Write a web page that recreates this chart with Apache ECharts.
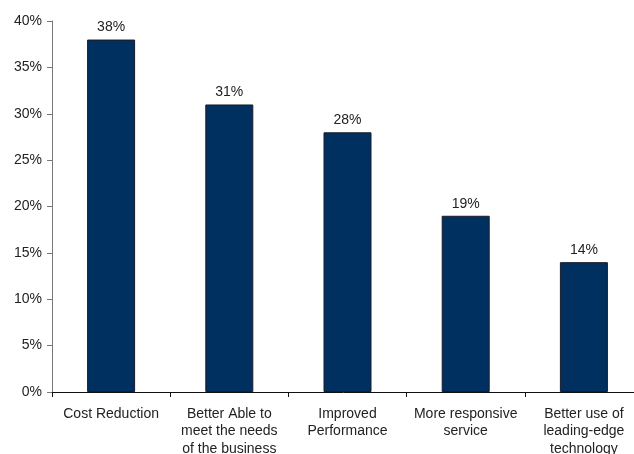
<!DOCTYPE html>
<html>
<head>
<meta charset="utf-8">
<script src="https://cdn.jsdelivr.net/npm/echarts@6/dist/echarts.min.js"></script>
<style>
  html, body { margin: 0; padding: 0; background: #fff; overflow: hidden; }
  #chart { width: 634px; height: 454px; }
</style>
</head>
<body>
<div id="chart"></div>
<script>
// Survey reasons, share of respondents (%)
const categories = [
  'Cost Reduction',
  'Better Able to\nmeet the needs\nof the business',
  'Improved\nPerformance',
  'More responsive\nservice',
  'Better use of\nleading-edge\ntechnology'
];
const values = [38, 31, 28, 19, 14];
const yTicks = { min: 0, max: 40, interval: 5 };

const font = 'Liberation Sans, Arial, sans-serif';
const chart = echarts.init(document.getElementById('chart'), null, { renderer: 'canvas' });
chart.setOption({
  animation: false,
  // plot area runs slightly past the right edge of the canvas
  grid: { left: 52, right: -9, top: 21, bottom: 62, containLabel: false, outerBoundsMode: 'none' },
  xAxis: {
    type: 'category',
    data: categories,
    axisLine: { lineStyle: { color: '#111', width: 1 } },
    axisTick: { show: true, length: 5, lineStyle: { color: '#111' } },
    axisLabel: {
      color: '#222', fontFamily: font,
      fontSize: 14, lineHeight: 17.5, margin: 13, interval: 0
    }
  },
  yAxis: {
    type: 'value',
    min: yTicks.min, max: yTicks.max, interval: yTicks.interval,
    axisLine: { show: true, lineStyle: { color: '#777', width: 1 } },
    axisTick: { show: true, length: 5, lineStyle: { color: '#777' } },
    splitLine: { show: false },
    axisLabel: {
      color: '#222', fontFamily: font,
      fontSize: 14, margin: 10, formatter: '{value}%'
    }
  },
  series: [{
    type: 'bar',
    data: values,
    barWidth: 48,
    itemStyle: { color: '#00305f', borderColor: '#1a1a2a', borderWidth: 1 },
    label: {
      show: true, position: 'top', distance: 5,
      color: '#222', fontFamily: font, fontSize: 14,
      formatter: '{c}%'
    }
  }]
});
</script>
</body>
</html>
